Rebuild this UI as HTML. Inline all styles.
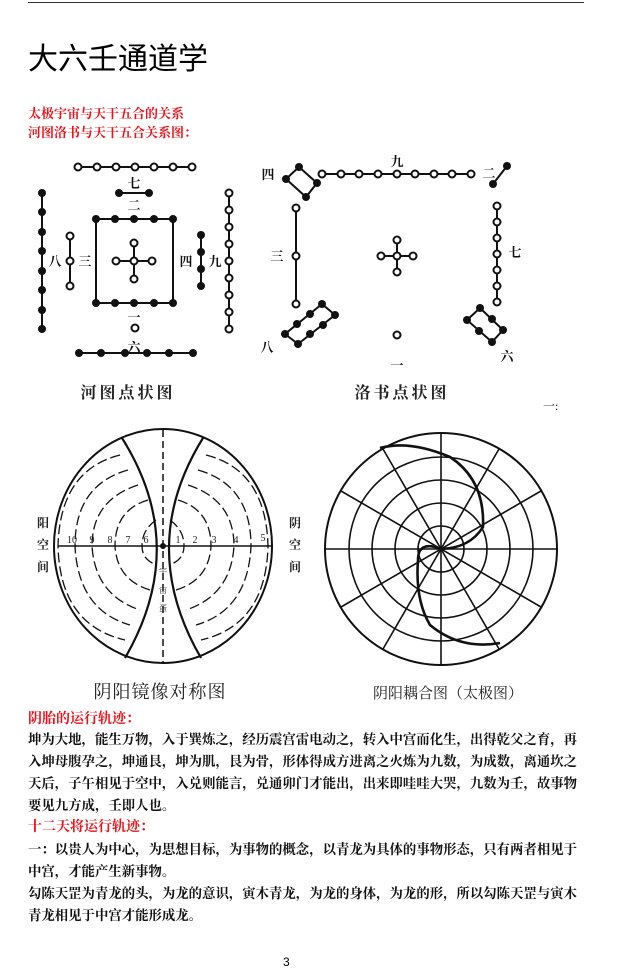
<!DOCTYPE html>
<html><head><meta charset="utf-8"><style>
body{margin:0;width:633px;height:979px;background:#fff;position:relative;overflow:hidden;font-family:"Liberation Serif","Noto Serif CJK SC",serif}
.t{position:absolute;left:28px;white-space:nowrap}
.red{color:#e8141b;font-size:13px;font-weight:bold}
.b{font-size:13.4px;font-weight:bold;color:#111;left:28px;letter-spacing:0}
</style></head><body>
<div style="position:absolute;left:28px;top:2px;width:556px;height:1px;background:#333"></div>
<div class="t" style="top:34px;font-size:30px;font-family:'Liberation Sans','Noto Sans CJK SC',sans-serif;color:#000">大六壬通道学</div>
<div class="t red" style="top:103px">太极宇宙与天干五合的关系</div>
<div class="t red" style="top:122px">河图洛书与天干五合关系图：</div>
<div class="t red" style="top:708px;font-size:14px">阴胎的运行轨迹：</div>
<div class="t b" style="top:729px">坤为大地，能生万物，入于巽炼之，经历震宫雷电动之，转入中宫而化生，出得乾父之育，再</div>
<div class="t b" style="top:751px">入坤母腹孕之，坤通艮，坤为肌，艮为骨，形体得成方进离之火炼为九数，为成数，离通坎之</div>
<div class="t b" style="top:773px">天后，子午相见于空中，入兑则能言，兑通卯门才能出，出来即哇哇大哭，九数为壬，故事物</div>
<div class="t b" style="top:795px">要见九方成，壬即人也。</div>
<div class="t red" style="top:816px;font-size:14px">十二天将运行轨迹：</div>
<div class="t b" style="top:839px">一：以贵人为中心，为思想目标，为事物的概念，以青龙为具体的事物形态，只有两者相见于</div>
<div class="t b" style="top:861px">中宫，才能产生新事物。</div>
<div class="t b" style="top:883px">勾陈天罡为青龙的头，为龙的意识，寅木青龙，为龙的身体，为龙的形，所以勾陈天罡与寅木</div>
<div class="t b" style="top:905px">青龙相见于中宫才能形成龙。</div>
<div class="t" style="left:283px;top:955px;font-size:12px;font-family:'Liberation Sans',sans-serif">3</div>
<div class="t" style="left:543px;top:397px;font-size:12px">一:</div>

<svg width="633" height="979" style="position:absolute;left:0;top:0" font-family="Liberation Serif,Noto Serif CJK SC,serif">
<g stroke="#111" stroke-width="2" fill="none">
<line x1="78" y1="167" x2="192" y2="167"/><line x1="42" y1="193" x2="42" y2="329"/>
<line x1="119" y1="193" x2="149" y2="193"/>
<rect x="96" y="219" width="77" height="84"/>
<line x1="134" y1="243" x2="134" y2="279"/><line x1="116" y1="261" x2="152" y2="261"/>
<line x1="70" y1="236" x2="70" y2="286"/><line x1="201" y1="235" x2="201" y2="286"/>
<line x1="229" y1="193" x2="229" y2="329"/><line x1="79" y1="353" x2="193" y2="353"/>
<line x1="322" y1="174" x2="471" y2="174"/>
<polygon points="299,167 317,183 306,197 286,179"/>
<line x1="507" y1="166" x2="493" y2="184"/>
<line x1="296" y1="208" x2="296" y2="304"/>
<line x1="397" y1="240" x2="397" y2="272"/><line x1="381" y1="256" x2="413" y2="256"/>
<line x1="497" y1="206" x2="497" y2="302"/>
<polygon points="322,304 335,315 298,344 285,334"/>
<polygon points="480,308 503,330 492,342 467,320"/>
</g>
<g fill="#111">
<circle cx="42" cy="193" r="4"/><circle cx="42" cy="212" r="4"/><circle cx="42" cy="232" r="4"/><circle cx="42" cy="251" r="4"/><circle cx="42" cy="271" r="4"/><circle cx="42" cy="290" r="4"/><circle cx="42" cy="310" r="4"/><circle cx="42" cy="329" r="4"/>
<circle cx="119" cy="193" r="4"/><circle cx="149" cy="193" r="4"/>
<circle cx="96" cy="219" r="4"/><circle cx="115" cy="219" r="4"/><circle cx="134" cy="219" r="4"/><circle cx="154" cy="219" r="4"/><circle cx="173" cy="219" r="4"/>
<circle cx="96" cy="303" r="4"/><circle cx="115" cy="303" r="4"/><circle cx="134" cy="303" r="4"/><circle cx="154" cy="303" r="4"/><circle cx="173" cy="303" r="4"/>
<circle cx="201" cy="235" r="4"/><circle cx="201" cy="252" r="4"/><circle cx="201" cy="269" r="4"/><circle cx="201" cy="286" r="4"/>
<circle cx="79" cy="353" r="4"/><circle cx="101" cy="353" r="4"/><circle cx="125" cy="353" r="4"/><circle cx="147" cy="353" r="4"/><circle cx="169" cy="353" r="4"/><circle cx="193" cy="353" r="4"/>
<circle cx="299" cy="167" r="4"/><circle cx="317" cy="183" r="4"/><circle cx="306" cy="197" r="4"/><circle cx="286" cy="179" r="4"/>
<circle cx="507" cy="166" r="4"/><circle cx="493" cy="184" r="4"/>
<circle cx="322" cy="304" r="4"/><circle cx="310" cy="314" r="4"/><circle cx="297" cy="324" r="4"/><circle cx="285" cy="334" r="4"/>
<circle cx="335" cy="315" r="4"/><circle cx="323" cy="325" r="4"/><circle cx="310" cy="334" r="4"/><circle cx="298" cy="344" r="4"/>
<circle cx="480" cy="308" r="4"/><circle cx="492" cy="319" r="4"/><circle cx="503" cy="330" r="4"/>
<circle cx="467" cy="320" r="4"/><circle cx="479" cy="331" r="4"/><circle cx="492" cy="342" r="4"/>
</g>
<g fill="#fff" stroke="#111" stroke-width="2">
<circle cx="78" cy="167" r="3.5"/><circle cx="97" cy="167" r="3.5"/><circle cx="116" cy="167" r="3.5"/><circle cx="135" cy="167" r="3.5"/><circle cx="154" cy="167" r="3.5"/><circle cx="173" cy="167" r="3.5"/><circle cx="192" cy="167" r="3.5"/>
<circle cx="134" cy="261" r="3.5"/><circle cx="134" cy="243" r="3.5"/><circle cx="134" cy="279" r="3.5"/><circle cx="116" cy="261" r="3.5"/><circle cx="152" cy="261" r="3.5"/>
<circle cx="70" cy="236" r="3.5"/><circle cx="70" cy="261" r="3.5"/><circle cx="70" cy="286" r="3.5"/>
<circle cx="229" cy="193" r="3.5"/><circle cx="229" cy="210" r="3.5"/><circle cx="229" cy="227" r="3.5"/><circle cx="229" cy="244" r="3.5"/><circle cx="229" cy="261" r="3.5"/><circle cx="229" cy="278" r="3.5"/><circle cx="229" cy="295" r="3.5"/><circle cx="229" cy="312" r="3.5"/><circle cx="229" cy="329" r="3.5"/>
<circle cx="135" cy="328" r="3.5"/>
<circle cx="322" cy="174" r="3.5"/><circle cx="341" cy="174" r="3.5"/><circle cx="359" cy="174" r="3.5"/><circle cx="378" cy="174" r="3.5"/><circle cx="397" cy="174" r="3.5"/><circle cx="415" cy="174" r="3.5"/><circle cx="434" cy="174" r="3.5"/><circle cx="452" cy="174" r="3.5"/><circle cx="471" cy="174" r="3.5"/>
<circle cx="296" cy="208" r="3.5"/><circle cx="296" cy="256" r="3.5"/><circle cx="296" cy="304" r="3.5"/>
<circle cx="397" cy="256" r="3.5"/><circle cx="397" cy="240" r="3.5"/><circle cx="397" cy="272" r="3.5"/><circle cx="381" cy="256" r="3.5"/><circle cx="413" cy="256" r="3.5"/>
<circle cx="497" cy="206" r="3.5"/><circle cx="497" cy="222" r="3.5"/><circle cx="497" cy="238" r="3.5"/><circle cx="497" cy="254" r="3.5"/><circle cx="497" cy="270" r="3.5"/><circle cx="497" cy="286" r="3.5"/><circle cx="497" cy="302" r="3.5"/>
<circle cx="397" cy="335" r="3.5"/>
</g>
<g font-size="13" fill="#111" text-anchor="middle" font-weight="bold">
<text x="134" y="188">七</text><text x="134" y="210">二</text><text x="55" y="266">八</text><text x="85" y="266">三</text>
<text x="186" y="266">四</text><text x="215" y="266">九</text><text x="134" y="322">一</text><text x="134" y="352">六</text>
<text x="397" y="166">九</text><text x="268" y="179">四</text><text x="489" y="178">二</text><text x="277" y="261">三</text>
<text x="515" y="257">七</text><text x="267" y="352">八</text><text x="397" y="370">一</text><text x="507" y="361">六</text>
</g>
<g font-size="16" fill="#222" text-anchor="middle">
<text x="128" y="398" letter-spacing="3" font-weight="bold">河图点状图</text><text x="402" y="398" letter-spacing="3" font-weight="bold">洛书点状图</text>
<text x="160" y="698" font-size="18" letter-spacing="1">阴阳镜像对称图</text>
<text x="448" y="698" font-size="15">阴阳耦合图（太极图）</text>
</g>
<g stroke="#111" fill="none">
<ellipse cx="163" cy="546" rx="109" ry="117" stroke-width="2"/>
<line x1="58" y1="546" x2="272" y2="546" stroke-width="1.5"/>
<line x1="163" y1="430" x2="163" y2="663" stroke-width="1.5" stroke-dasharray="7,4"/>
<path d="M122,438 Q190,546 125,658" stroke-width="2.2"/>
<path d="M203,438 Q136,546 201,658" stroke-width="2.2"/>
<g stroke-width="1.3" stroke-dasharray="10,4">
<path d="M120,455 Q60,470 58,546 Q60,625 125,640"/>
<path d="M128,470 Q75,485 75,546 Q78,610 130,625"/>
<path d="M138,485 Q92,500 92,546 Q95,595 140,610"/>
<path d="M148,500 Q115,510 115,546 Q117,580 150,590"/>
<path d="M156,520 Q142,530 142,546 Q142,560 157,565"/>
<path d="M206,455 Q266,470 268,546 Q266,625 201,640"/>
<path d="M198,470 Q251,485 251,546 Q248,610 196,625"/>
<path d="M188,485 Q234,500 234,546 Q231,595 186,610"/>
<path d="M178,500 Q211,510 211,546 Q209,580 176,590"/>
<path d="M170,520 Q184,530 184,546 Q184,560 169,565"/>
</g>
</g>
<circle cx="163" cy="546" r="3" fill="#111"/>
<g font-size="10" fill="#222" text-anchor="middle">
<text x="72" y="543">10</text><text x="92" y="543">9</text><text x="110" y="543">8</text><text x="128" y="543">7</text><text x="146" y="543">6</text>
<text x="178" y="543">1</text><text x="195" y="543">2</text><text x="214" y="543">3</text><text x="236" y="543">4</text><text x="263" y="541">5</text>
<g font-size="12" font-weight="bold"><text x="43" y="527">阳</text><text x="43" y="549">空</text><text x="43" y="571">间</text>
<text x="295" y="527">阴</text><text x="295" y="549">空</text><text x="295" y="571">间</text></g>
<text x="163" y="574" font-size="8">宇</text><text x="163" y="593" font-size="8">宙</text><text x="163" y="611" font-size="8">蛋</text>
</g>
<g stroke="#111" fill="none" stroke-width="1.6">
<circle cx="441" cy="549" r="116" stroke-width="2"/>
<circle cx="441" cy="549" r="23"/><circle cx="441" cy="549" r="46"/><circle cx="441" cy="549" r="69"/><circle cx="441" cy="549" r="92"/>
<line x1="325" y1="549" x2="557" y2="549"/><line x1="441" y1="433" x2="441" y2="665"/>
<line x1="341" y1="491" x2="541" y2="607"/><line x1="341" y1="607" x2="541" y2="491"/>
<line x1="383" y1="449" x2="499" y2="649"/><line x1="383" y1="649" x2="499" y2="449"/>
<path d="M380,448 Q410,440 450,457 Q485,480 483,527 Q470,548 441,549 Q418,540 418,560 Q415,600 430,625 Q460,650 500,643" stroke-width="2.6"/>
</g>
</svg>
</body></html>
